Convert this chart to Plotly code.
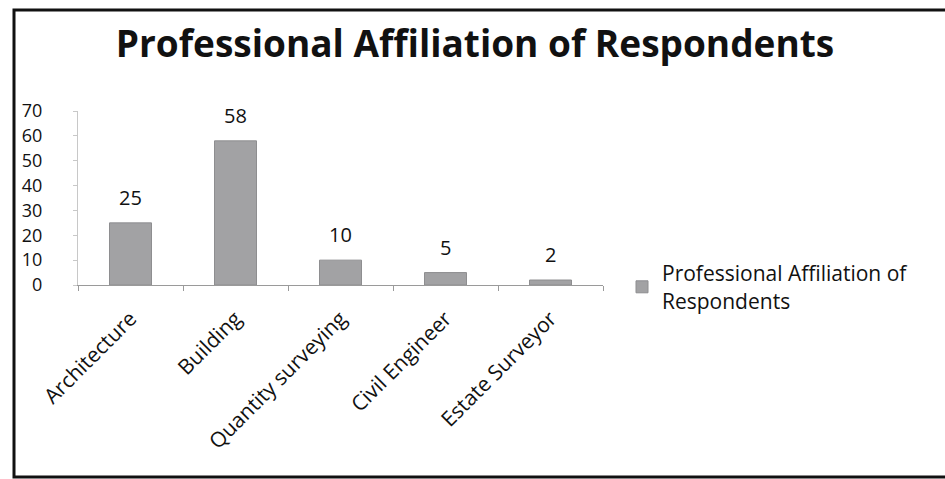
import plotly.graph_objects as go

categories = ["Architecture", "Building", "Quantity surveying", "Civil Engineer", "Estate Surveyor"]
values = [25, 58, 10, 5, 2]
series_name = "Professional Affiliation of Respondents"
y_ticks = [0, 10, 20, 30, 40, 50, 60, 70]

FONT = "Open Sans, Calibri, Carlito, sans-serif"
BAR = "#a2a2a4"

# plot-area geometry (pixels)
W, H = 945, 479
L, R, T, B = 78, 342, 111, 194
pw, ph = W - L - R, H - T - B

def px_x(p):
    return (p - L) / pw

def px_y(p):
    return (H - B - p) / ph

fig = go.Figure()
fig.add_trace(go.Bar(
    x=categories, y=values, name="Professional Affiliation of<br>Respondents",
    marker=dict(color=BAR, line=dict(color="#8e8e90", width=1)),
    width=0.4, showlegend=True,
))

for c, v in zip(categories, values):
    fig.add_annotation(x=c, y=v, text=str(v), showarrow=False,
                       yanchor="bottom", yshift=10,
                       font=dict(family=FONT, size=20, color="#111"))

fig.add_shape(type="rect", xref="paper", yref="paper",
              x0=px_x(14), x1=px_x(1000), y0=px_y(477), y1=px_y(10),
              line=dict(color="#111", width=3), fillcolor="rgba(0,0,0,0)")

fig.update_layout(
    width=W, height=H,
    margin=dict(l=L, r=R, t=T, b=B),
    paper_bgcolor="white", plot_bgcolor="white",
    title=dict(text="<b>Professional Affiliation of Respondents</b>",
               x=475 / W, xanchor="center", y=1 - 44 / H, yanchor="middle",
               font=dict(family=FONT, size=37, color="#111")),
    font=dict(family=FONT, color="#111"),
    showlegend=True,
    legend=dict(x=px_x(622), y=px_y(253), xanchor="left", yanchor="top",
                font=dict(family=FONT, size=21, color="#111"),
                itemwidth=30, bgcolor="rgba(0,0,0,0)"),
    xaxis=dict(tickangle=-45, tickfont=dict(family=FONT, size=21, color="#111"),
               showline=True, linecolor="#9a9a9a", linewidth=1,
               ticks="outside", tickson="boundaries", ticklen=5, tickcolor="#9a9a9a",
               ticklabelstandoff=12,
               showgrid=False, zeroline=False),
    yaxis=dict(range=[0, 70], tickvals=y_ticks,
               tickfont=dict(family=FONT, size=18, color="#111"),
               showline=True, linecolor="#c8c8c8", linewidth=1,
               ticks="outside", ticklen=4, tickcolor="#c8c8c8",
               ticklabelstandoff=27,
               showgrid=False, zeroline=False),
)

fig.write_html("out.html")
